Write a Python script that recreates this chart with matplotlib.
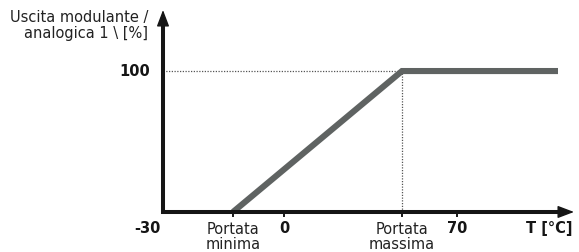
import matplotlib.pyplot as plt

# positions on the (non-linear) temperature axis, in drawing units
x_tick_pos = [70, 121, 239, 294]
x_tick_labels = ["Portata\nminima", "0", "Portata\nmassima", "70"]
origin_label = "-30"

# output curve: 0 % at minimum flow, 100 % at maximum flow, then flat
ramp_x = [70, 239, 395]
ramp_y = [0, 100, 100]
y_max_label = "100"

axis_color = "#151515"
line_color = "#5f6362"
fs = 10.5

fig = plt.figure(figsize=(5.79, 2.52), dpi=100)
ax = fig.add_axes([0, 0, 1, 1])
ax.set_xlim(-163, 416)
ax.set_ylim(-28.4, 150.4)
ax.axis("off")

# guide lines to the 100 % level
ax.plot([0, ramp_x[1]], [100, 100], ls=(0, (1, 1.2)), lw=0.9, color="#555555")
ax.plot([ramp_x[1], ramp_x[1]], [0, 100], ls=(0, (1, 1.2)), lw=0.9, color="#555555")

# the ramp
ax.plot(ramp_x, ramp_y, color=line_color, lw=4.4, solid_capstyle="butt",
        solid_joinstyle="miter", zorder=3)

# axes: an L with a square corner, plus arrow heads
ax.plot([0, 0, 400], [136, 0, 0], color=axis_color, lw=2.9,
        solid_joinstyle="miter", solid_capstyle="butt", zorder=4)
arrow = dict(arrowstyle="-|>,head_length=1.0,head_width=0.38", lw=1.0,
             color=axis_color, shrinkA=0, shrinkB=0, mutation_scale=10)
ax.annotate("", xy=(411, 0), xytext=(390, 0), arrowprops=arrow, zorder=5)
ax.annotate("", xy=(0, 143.3), xytext=(0, 128), arrowprops=arrow, zorder=5)

# tick marks below the x axis
for xp in x_tick_pos:
    ax.plot([xp, xp], [0, -2.8], color=axis_color, lw=1.4, zorder=4)

# labels
ax.text(-16, -11.5, origin_label, ha="center", va="center", fontsize=fs,
        fontweight="bold", color=axis_color)
for xp, lab in zip(x_tick_pos, x_tick_labels):
    if "\n" in lab:
        ax.text(xp, -6.8, lab, ha="center", va="top", fontsize=fs,
                color="#222222", linespacing=1.05)
    else:
        ax.text(xp, -12.0, lab, ha="center", va="center", fontsize=fs,
                fontweight="bold", color=axis_color)
ax.text(410, -12.0, "T [°C]", ha="right", va="center", fontsize=fs,
        fontweight="bold", color=axis_color)
ax.text(-13, 100, y_max_label, ha="right", va="center", fontsize=fs,
        fontweight="bold", color=axis_color)
ax.text(-15, 143.5, "Uscita modulante /\nanalogica 1 \\ [%]", ha="right",
        va="top", fontsize=fs, color="#222222", multialignment="right",
        linespacing=1.1)

fig.savefig("out.png", dpi=100)
